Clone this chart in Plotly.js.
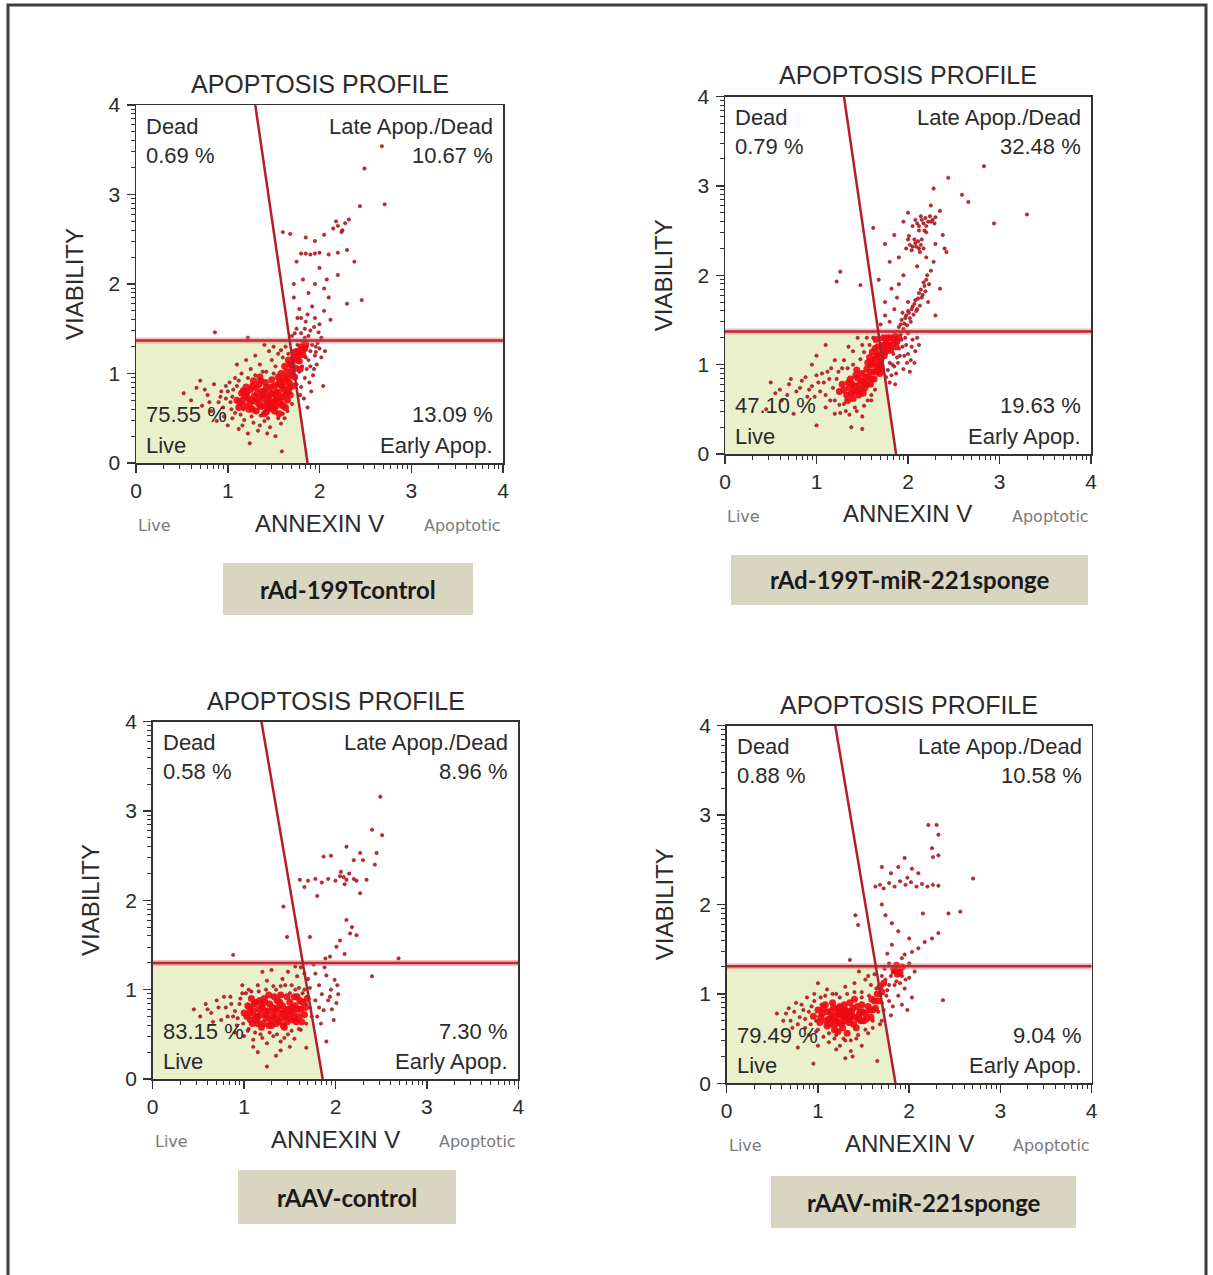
<!DOCTYPE html>
<html><head><meta charset="utf-8">
<script src="https://cdn.plot.ly/plotly-3.0.1.min.js"></script>
<style>html,body{margin:0;padding:0;background:#fff}#chart{width:1213px;height:1275px}</style>
</head><body><div id="chart"></div>
<script>
// ---------------- DATA ----------------
const sampleNames = ['rAd-199Tcontrol', 'rAd-199T-miR-221sponge', 'rAAV-control', 'rAAV-miR-221sponge'];
const deadPct  = ['0.69 %', '0.79 %', '0.58 %', '0.88 %'];
const latePct  = ['10.67 %', '32.48 %', '8.96 %', '10.58 %'];
const livePct  = ['75.55 %', '47.10 %', '83.15 %', '79.49 %'];
const earlyPct = ['13.09 %', '19.63 %', '7.30 %', '9.04 %'];
const tickVals = [0, 1, 2, 3, 4];
const tickText = ['0', '1', '2', '3', '4'];
// gates: horizontal viability threshold, diagonal annexin line (x at top y=4, x at bottom y=0)
const gateH      = [1.37, 1.37, 1.30, 1.31];
const gateTopX   = [1.30, 1.30, 1.19, 1.19];
const gateBottomX= [1.87, 1.87, 1.86, 1.85];

// events, [annexin, viability]; dense core and scattered events
const p1Core = [[1.10,0.70],[1.15,0.78],[1.18,0.64],[1.22,0.72],[1.25,0.82],[1.27,0.60],[1.30,0.69],[1.32,0.77],[1.34,0.88],[1.36,0.63],[1.38,0.72],[1.40,0.80],[1.42,0.57],[1.43,0.67],[1.45,0.75],[1.47,0.85],[1.48,0.93],[1.50,0.62],[1.52,0.70],[1.53,0.79],[1.55,0.88],[1.56,0.55],[1.58,0.66],[1.60,0.74],[1.61,0.83],[1.62,0.95],[1.64,1.02],[1.65,0.70],[1.67,0.90],[1.68,1.10],[1.70,0.98],[1.72,1.18],[1.74,1.06],[1.76,1.25],[1.78,1.14],[1.80,1.30],[1.82,1.21],[1.20,0.85],[1.28,0.92],[1.35,0.96],[1.44,0.60],[1.46,0.68],[1.51,0.58],[1.57,0.92],[1.63,0.62],[1.66,0.80],[1.69,1.03],[1.71,0.86],[1.24,0.66],[1.39,0.64],[1.49,0.77],[1.54,0.73],[1.59,0.86],[1.33,0.72],[1.41,0.90],[1.12,0.62],[1.19,0.75],[1.26,0.70],[1.37,0.80],[1.58,1.00],
  [1.16,0.70],[1.21,0.79],[1.23,0.60],[1.29,0.75],[1.31,0.84],[1.34,0.66],[1.36,0.92],[1.39,0.76],[1.42,0.84],[1.44,0.71],[1.46,0.62],[1.47,0.78],[1.50,0.68],[1.51,0.86],[1.53,0.64],[1.55,0.79],[1.57,0.71],[1.60,0.64],[1.61,0.90],[1.63,0.77],[1.65,0.95],[1.67,0.84],[1.70,1.10],[1.73,0.96],[1.75,1.15],[1.77,1.20],[1.79,1.05],[1.81,1.26],[1.84,1.28],[1.68,0.76],[1.27,0.86],[1.17,0.81],[1.13,0.68],[1.31,0.58],[1.40,0.55],[1.55,0.96],[1.62,1.08],[1.66,1.15],[1.73,1.24],[1.85,1.33]];
const p1Spread = [[0.52,0.78],[0.60,0.70],[0.66,0.84],[0.72,0.64],[0.78,0.76],[0.82,0.58],[0.85,0.88],[0.90,0.68],[0.93,0.80],[0.96,0.52],[0.98,0.72],[1.02,0.90],[1.04,0.60],[1.06,0.82],[1.08,0.95],[0.70,0.92],[0.88,0.47],[1.00,0.42],[1.05,0.50],[1.12,0.38],[1.18,0.48],[1.22,0.33],[1.28,0.45],[1.33,0.36],[1.40,0.47],[1.46,0.40],[1.52,0.30],[1.58,0.44],[1.62,0.50],[1.24,0.22],[1.59,0.13],[1.15,1.00],[1.25,1.05],[1.35,1.10],[1.42,1.02],[1.48,1.15],[1.52,1.08],[1.55,1.22],[1.60,1.18],[1.63,1.30],[1.45,1.25],[1.30,1.20],[1.20,1.15],
  [0.75,0.82],[0.80,0.68],[0.92,0.74],[0.95,0.62],[1.00,0.80],[1.03,0.68],[1.05,0.74],[1.08,0.56],[1.10,0.86],[1.12,0.92],[1.14,0.54],[1.17,0.60],[1.22,0.95],[1.26,0.52],[1.30,0.98],[1.36,0.53],[1.38,1.02],[1.44,0.50],[1.50,1.00],[1.55,0.50],[1.60,0.55],[1.65,0.58],[1.70,0.66],[1.58,1.26],[1.50,1.30],[1.40,1.32],[1.66,1.22],[1.35,0.42],[1.43,0.33],[1.16,0.42],[1.10,1.10],[0.98,0.86],
  [0.86,1.46],[1.22,1.40],
  [1.80,0.85],[1.84,0.95],[1.86,1.05],[1.88,1.15],[1.90,1.25],[1.92,1.32],[1.95,1.20],[1.97,1.10],[2.00,1.28],[2.04,0.86],[1.83,0.72],[1.87,0.62],[1.93,0.98],[1.78,1.22],[1.82,1.35],[1.86,1.30],[1.98,1.34],[2.02,1.18],[1.91,0.80],[1.85,1.18],[1.94,1.05],[1.89,0.90],[1.76,1.32],[1.81,1.08],[2.06,1.25],[1.96,1.30],[1.78,1.02],[1.90,1.08],[1.96,1.24],[1.75,0.88],[1.79,0.76],
  [1.70,1.42],[1.75,1.50],[1.80,1.45],[1.85,1.58],[1.90,1.48],[1.95,1.62],[2.00,1.55],[2.05,1.70],[1.78,1.72],[1.72,1.85],[1.88,1.90],[1.82,2.05],[1.95,2.00],[2.05,1.95],[2.10,1.85],[2.30,1.78],[2.20,2.10],[1.75,2.25],[1.80,2.34],[1.85,2.34],[1.90,2.33],[1.95,2.34],[2.00,2.35],[2.10,2.33],[2.20,2.35],[2.30,2.38],[1.60,2.58],[1.68,2.56],[1.85,2.52],[1.95,2.48],[2.05,2.55],[2.15,2.62],[2.20,2.65],[2.25,2.60],[2.28,2.68],[2.32,2.72],[2.24,2.58],[2.18,2.70],[2.44,2.87],[2.49,3.29],[2.68,3.54],[2.71,2.89],[2.46,1.82],[2.38,2.25],[1.72,2.00],[2.00,2.18],[1.92,1.75],[2.12,1.60],[1.76,1.62],[2.08,2.05],[1.84,1.40],[1.88,1.42],[1.94,1.52],[1.99,1.46],[1.84,1.50],[1.80,1.62],[1.87,1.66],[2.02,1.40],[1.73,1.45]];

const p2Core = [[1.30,0.72],[1.35,0.80],[1.38,0.68],[1.42,0.76],[1.45,0.85],[1.48,0.72],[1.50,0.90],[1.52,0.80],[1.55,0.95],[1.57,0.86],[1.60,1.00],[1.62,0.92],[1.64,1.06],[1.66,0.98],[1.68,1.12],[1.70,1.03],[1.72,1.18],[1.74,1.10],[1.76,1.24],[1.78,1.16],[1.80,1.30],[1.83,1.22],[1.86,1.32],[1.88,1.26],[1.58,1.08],[1.63,0.84],[1.67,1.20],[1.71,0.95],[1.40,0.62],[1.46,0.66],[1.53,0.74],[1.61,1.14],[1.65,1.28],[1.73,1.30],[1.69,0.90],[1.44,0.94],[1.56,1.02],[1.59,0.78],[1.36,0.74],[1.49,0.82],
  [1.25,0.70],[1.28,0.78],[1.33,0.66],[1.37,0.84],[1.41,0.70],[1.43,0.88],[1.47,0.78],[1.51,0.68],[1.54,0.86],[1.58,0.92],[1.60,0.84],[1.62,1.02],[1.65,0.92],[1.66,1.10],[1.69,1.00],[1.71,1.08],[1.73,1.22],[1.75,1.14],[1.77,1.30],[1.79,1.22],[1.81,1.16],[1.84,1.28],[1.87,1.20],[1.90,1.30],[1.64,1.18],[1.68,0.96],[1.55,0.78],[1.45,0.70],[1.39,0.78],[1.34,0.60]];
const p2Spread = [[0.45,0.50],[0.55,0.68],[0.62,0.60],[0.70,0.78],[0.78,0.70],[0.84,0.82],[0.90,0.64],[0.95,0.76],[1.00,0.88],[1.04,0.70],[1.08,0.80],[1.12,0.92],[1.15,0.60],[1.18,0.74],[1.22,0.84],[1.25,0.55],[1.28,0.96],[1.10,0.52],[1.20,0.45],[1.32,0.48],[1.42,0.52],[1.50,0.42],[1.38,0.30],[1.50,0.28],[1.00,0.32],[0.75,0.45],[1.00,1.10],[1.10,1.22],[1.30,1.05],[1.40,1.15],[1.50,1.22],[1.55,1.30],[1.45,1.30],[0.95,1.00],[0.50,0.80],[1.60,0.60],
  [0.60,0.72],[0.68,0.66],[0.72,0.84],[0.82,0.74],[0.88,0.86],[0.92,0.72],[0.98,0.64],[1.02,0.80],[1.06,0.90],[1.10,0.66],[1.14,0.84],[1.16,0.96],[1.20,0.60],[1.24,0.92],[1.26,0.46],[1.30,0.56],[1.34,0.96],[1.36,0.44],[1.40,1.00],[1.44,0.48],[1.48,1.06],[1.52,0.54],[1.56,0.60],[1.60,0.66],[1.64,0.72],[1.52,1.14],[1.58,1.22],[1.62,1.30],[1.35,1.20],[1.20,1.05],
  [1.85,0.98],[1.88,1.08],[1.90,1.18],[1.93,1.28],[1.96,1.10],[1.98,1.22],[2.00,1.35],[2.03,1.05],[2.05,1.28],[1.95,0.95],[1.82,0.88],[1.86,0.78],[2.08,1.15],[1.80,1.02],[1.92,1.34],[2.02,0.92],[1.78,0.94],[1.84,1.12],[1.99,1.02],[2.10,1.30],
  [1.80,0.80],[1.83,1.00],[1.87,0.90],[1.89,1.02],[1.91,1.10],[1.94,1.20],[1.97,1.30],[2.00,1.12],[2.04,1.20],[2.07,1.02],[1.76,0.86],[2.12,1.22],
  [1.90,1.42],[1.93,1.50],[1.96,1.46],[1.98,1.55],[2.00,1.60],[2.02,1.52],[2.05,1.65],[2.08,1.72],[2.10,1.62],[2.12,1.80],[2.15,1.75],[2.18,1.88],[2.05,2.32],[2.08,2.36],[2.12,2.30],[2.00,2.40],[2.15,2.40],[2.10,2.58],[2.15,2.62],[2.20,2.55],[2.25,2.60],[2.05,2.55],[2.30,2.65],[2.18,2.50],
  [1.92,1.45],[1.95,1.40],[1.97,1.52],[1.99,1.44],[2.01,1.58],[2.03,1.48],[2.04,1.62],[2.06,1.56],[2.07,1.68],[2.09,1.60],[2.11,1.74],[2.13,1.66],[2.14,1.84],[2.16,1.78],[2.17,1.92],[2.19,1.82],[2.21,2.00],[2.23,1.90],[1.94,1.58],[2.00,1.70],[2.02,2.34],[2.04,2.28],[2.07,2.40],[2.09,2.32],[2.11,2.38],[2.13,2.26],[2.14,2.34],[2.17,2.30],[1.98,2.30],[2.01,2.44],[2.08,2.62],[2.12,2.55],[2.14,2.66],[2.17,2.58],[2.19,2.64],[2.22,2.60],[2.24,2.66],[2.27,2.62],[2.29,2.58],[2.12,2.50],[2.20,2.48],
  [1.70,1.45],[1.75,1.55],[1.80,1.48],[1.85,1.62],[1.88,1.75],[1.82,1.85],[1.75,1.70],[2.20,1.95],[2.25,2.05],[2.28,2.15],[2.22,1.70],[2.30,1.55],[2.35,1.85],[1.95,2.00],[1.90,2.20],[1.80,2.15],[1.95,2.60],[2.00,2.70],[2.25,2.78],[2.35,2.72],[2.28,2.97],[2.44,3.09],[2.83,3.22],[2.94,2.58],[3.30,2.68],[2.59,2.90],[2.66,2.82],[2.42,2.26],[1.62,2.53],[1.75,2.35],[2.40,2.30],[2.38,2.45],[1.85,2.45],[2.30,2.35],[2.20,2.20],[2.10,2.10],[1.68,1.95],[1.90,1.90],
  [1.26,2.04],[1.22,1.93],[1.48,1.89]];

const p3Core = [[1.00,0.74],[1.04,0.82],[1.07,0.66],[1.10,0.76],[1.13,0.86],[1.15,0.62],[1.18,0.72],[1.20,0.80],[1.22,0.90],[1.24,0.68],[1.26,0.76],[1.28,0.84],[1.30,0.60],[1.32,0.70],[1.34,0.78],[1.36,0.88],[1.38,0.64],[1.40,0.74],[1.42,0.82],[1.44,0.58],[1.46,0.70],[1.48,0.78],[1.50,0.86],[1.52,0.66],[1.54,0.74],[1.56,0.82],[1.58,0.92],[1.60,0.70],[1.62,0.78],[1.64,0.86],[1.12,0.70],[1.16,0.78],[1.25,0.72],[1.29,0.66],[1.33,0.74],[1.37,0.80],[1.41,0.68],[1.45,0.76],[1.49,0.72],[1.53,0.80],[1.21,0.62],[1.35,0.62],[1.27,0.94],[1.47,0.92],[1.08,0.90],[1.66,0.72],[1.57,0.64],[1.19,0.84],
  [1.03,0.70],[1.06,0.80],[1.09,0.62],[1.11,0.84],[1.14,0.66],[1.17,0.88],[1.19,0.58],[1.23,0.76],[1.27,0.60],[1.31,0.80],[1.33,0.92],[1.35,0.68],[1.39,0.86],[1.43,0.74],[1.47,0.64],[1.51,0.76],[1.55,0.68],[1.59,0.78],[1.61,0.88],[1.63,0.64],[1.67,0.80],[1.69,0.90],[1.23,0.86],[1.15,0.70],[1.40,0.94],[1.55,0.92],[1.43,0.60],[1.06,0.74]];
const p3Spread = [[0.45,0.78],[0.52,0.70],[0.58,0.84],[0.64,0.74],[0.70,0.88],[0.75,0.66],[0.80,0.80],[0.85,0.92],[0.88,0.70],[0.92,0.60],[0.95,0.84],[0.98,0.96],[0.90,0.52],[1.00,0.48],[1.05,0.56],[1.10,0.44],[1.18,0.50],[1.25,0.40],[1.32,0.48],[1.40,0.42],[1.48,0.50],[1.55,0.45],[1.62,0.55],[1.68,0.35],[1.25,0.14],[1.15,0.30],[1.40,0.32],[1.05,1.00],[1.15,1.05],[1.25,1.10],[1.35,1.00],[1.42,1.12],[1.48,1.20],[1.52,1.05],[1.58,1.15],[1.62,1.25],[1.66,1.00],[1.70,0.92],[1.72,0.80],[1.68,0.62],[1.60,1.02],[0.98,1.05],[1.30,1.22],
  [0.60,0.78],[0.66,0.64],[0.72,0.80],[0.78,0.92],[0.82,0.70],[0.86,0.84],[0.90,0.76],[0.93,0.68],[0.96,0.90],[0.99,0.62],[1.02,0.96],[1.04,0.54],[1.08,0.98],[1.12,0.52],[1.16,0.98],[1.20,0.46],[1.24,1.00],[1.28,0.52],[1.32,1.04],[1.36,0.50],[1.40,1.04],[1.44,0.46],[1.50,0.96],[1.52,0.54],[1.56,1.00],[1.60,0.56],[1.64,0.96],[1.68,0.84],[1.72,1.02],[1.70,1.12],[1.66,1.18],[1.56,1.26],[1.45,1.05],[1.20,1.20],[1.10,0.36],[1.50,0.36],[1.35,0.26],[1.74,0.70],
  [1.78,1.18],[1.82,1.05],[1.85,0.95],[1.87,0.77],[1.90,1.16],[1.92,0.88],[1.95,1.00],[1.98,0.66],[1.99,1.11],[2.01,0.85],[2.03,0.95],[1.80,0.70],[1.84,0.62],[1.90,0.42],[2.40,1.15],[1.88,1.25],[1.76,1.28],[1.96,0.78],[1.78,0.88],[1.82,0.80],[1.94,0.92],[2.02,1.05],
  [1.89,1.35],[1.94,1.37],[2.01,1.48],[2.12,1.78],[2.16,1.63],[2.23,1.61],[2.18,1.70],[1.72,1.59],[2.69,1.35],[1.61,2.23],[1.70,2.22],[1.78,2.24],[1.85,2.20],[1.92,2.24],[2.00,2.22],[2.05,2.27],[2.09,2.26],[2.12,2.23],[2.15,2.30],[2.20,2.24],[2.23,2.22],[2.10,2.18],[2.06,2.32],[1.87,2.49],[2.12,2.60],[2.27,2.53],[2.40,2.79],[2.49,3.16],[2.51,2.73],[2.45,2.53],[2.43,2.40],[2.34,2.23],[2.27,2.08],[1.66,2.15],[1.95,2.50],[2.20,2.45],[2.30,2.45],[1.80,2.05],[2.05,1.55],[2.10,1.40],
  [1.43,1.93],[1.47,1.59],[0.88,1.39]];

const p4Core = [[0.95,0.75],[1.00,0.82],[1.02,0.68],[1.05,0.78],[1.08,0.88],[1.10,0.64],[1.12,0.72],[1.14,0.80],[1.16,0.90],[1.18,0.60],[1.20,0.70],[1.22,0.78],[1.24,0.86],[1.26,0.66],[1.28,0.74],[1.30,0.82],[1.32,0.56],[1.34,0.68],[1.36,0.76],[1.38,0.84],[1.40,0.94],[1.42,0.62],[1.44,0.72],[1.46,0.80],[1.48,0.88],[1.50,0.70],[1.52,0.78],[1.55,0.86],[1.58,0.74],[1.60,0.82],[1.62,0.92],[1.65,1.00],[1.68,1.08],[1.15,0.74],[1.25,0.76],[1.27,0.82],[1.29,0.70],[1.31,0.76],[1.21,0.84],[1.19,0.66],[1.33,0.80],[1.35,0.72],[1.39,0.66],[1.45,0.76],[1.85,1.26],[1.88,1.29],[1.90,1.24],[1.86,1.32],
  [1.03,0.74],[1.06,0.84],[1.09,0.70],[1.11,0.80],[1.13,0.66],[1.17,0.84],[1.19,0.76],[1.23,0.68],[1.25,0.82],[1.27,0.62],[1.29,0.88],[1.33,0.72],[1.37,0.80],[1.41,0.74],[1.43,0.86],[1.47,0.70],[1.49,0.80],[1.53,0.72],[1.57,0.82],[1.59,0.94],[1.63,0.84],[1.66,0.92],[1.70,1.02],[1.72,1.12],[1.18,0.70],[1.35,0.90],[1.22,0.58],[1.83,1.28],[1.92,1.30],[1.87,1.22]];
const p4Spread = [[0.55,0.78],[0.62,0.70],[0.68,0.84],[0.72,0.62],[0.76,0.90],[0.80,0.74],[0.84,0.82],[0.86,0.62],[0.88,0.96],[0.90,0.54],[0.93,0.86],[0.96,1.00],[0.98,0.58],[1.03,0.96],[1.06,0.52],[1.12,0.46],[1.18,0.50],[1.24,0.42],[1.30,0.48],[1.36,0.36],[1.42,0.50],[1.48,0.42],[1.55,0.56],[1.60,0.62],[0.95,0.22],[1.30,0.28],[1.65,0.25],[0.78,0.40],[1.10,1.05],[1.20,1.00],[1.30,1.08],[1.40,1.12],[1.48,1.02],[1.52,1.16],[1.58,1.10],[1.62,1.22],[1.66,0.80],[1.70,0.90],[1.45,1.25],[1.00,1.12],[1.70,0.70],
  [0.65,0.78],[0.70,0.70],[0.74,0.80],[0.78,0.66],[0.82,0.88],[0.86,0.72],[0.90,0.80],[0.92,0.66],[0.96,0.92],[0.98,0.70],[1.00,0.60],[1.04,0.88],[1.08,0.98],[1.12,0.56],[1.16,1.00],[1.20,0.54],[1.24,0.96],[1.28,0.50],[1.32,1.00],[1.36,0.48],[1.40,1.02],[1.44,0.54],[1.48,0.96],[1.52,0.60],[1.56,0.98],[1.60,0.70],[1.64,1.06],[1.68,0.66],[1.70,1.20],[1.55,1.20],[1.38,0.30],[1.20,0.38],[1.00,0.42],
  [1.74,1.16],[1.76,1.04],[1.78,0.92],[1.80,1.20],[1.82,0.86],[1.84,1.10],[1.88,0.98],[1.90,1.12],[1.92,0.88],[1.95,1.06],[1.98,0.82],[2.00,1.18],[2.03,0.96],[2.06,1.25],[2.37,0.93],[1.80,0.76],[1.94,1.30],[1.73,1.28],[1.72,0.82],[1.75,0.98],[1.78,1.10],[1.82,1.24],[1.86,1.14],[1.92,1.20],[1.96,1.16],[2.00,1.34],[1.78,1.34],
  [1.95,1.44],[2.03,1.47],[2.10,1.51],[2.17,1.58],[2.25,1.62],[2.32,1.68],[1.81,1.55],[1.88,1.70],[1.81,1.79],[1.74,1.88],[1.70,2.00],[2.43,1.90],[2.56,1.92],[2.70,2.29],[1.63,2.20],[1.68,2.22],[1.72,2.18],[1.78,2.24],[1.84,2.20],[1.90,2.26],[1.96,2.22],[2.02,2.25],[2.08,2.20],[2.14,2.23],[2.20,2.20],[2.26,2.22],[2.32,2.21],[1.98,2.30],[1.88,2.42],[2.03,2.40],[1.70,2.42],[1.95,2.52],[2.25,2.63],[2.26,2.53],[2.32,2.55],[2.21,2.89],[2.30,2.89],[2.32,2.78],[2.10,2.35],[1.80,2.35],[1.92,1.40],[2.00,1.62],[1.76,1.45],[2.15,1.90],
  [1.41,1.88],[1.44,1.77],[1.35,1.38]];

const coreSets = [p1Core, p2Core, p3Core, p4Core];
const spreadSets = [p1Spread, p2Spread, p3Spread, p4Spread];

// ---------------- LAYOUT GEOMETRY (pixels) ----------------
const W = 1213, H = 1275;
const panelBox   = [[136,503,105,463],[725,1091,96.5,454],[152.7,518.3,721.7,1079],[726.7,1091.7,725.7,1083.3]]; // l,r,t,b
const captionBox = [[223,473,563,615],[731,1088,555,605],[238,456,1170,1224],[771,1076,1176,1228]];
const fx = p => p / W, fy = p => 1 - p / H;

const minorVals = [];
for (let d = 0; d < 4; d++) for (let k = 2; k <= 9; k++) minorVals.push(d + Math.log10(k));

const MAIN = 'Liberation Sans, Arial, Helvetica, sans-serif';
const TXT = '#2b2b2b';

const traces = [], shapes = [], annotations = [];
const layout = {
  width: W, height: H, margin: {l:0, r:0, t:0, b:0},
  paper_bgcolor: '#fff', plot_bgcolor: 'rgba(0,0,0,0)',
  showlegend: false, hovermode: false
};

function axisCfg(dom, anchor, isX) {
  return {
    domain: dom, anchor: anchor, range: [0, 4], fixedrange: true,
    tickmode: 'array', tickvals: tickVals, ticktext: tickText,
    ticks: 'outside', ticklen: 8, tickwidth: 1.5, tickcolor: '#333',
    ticklabelstandoff: isX ? 0 : 2,
    showline: true, mirror: true, linecolor: '#333', linewidth: 1.5,
    showgrid: false, zeroline: false,
    tickfont: {family: MAIN, size: 21, color: TXT},
    minor: {tickmode: 'array', tickvals: minorVals, ticks: 'outside', ticklen: 4, tickwidth: 1, tickcolor: '#333', showgrid: false}
  };
}

for (let i = 0; i < 4; i++) {
  const [l, r, t, b] = panelBox[i];
  const n = i === 0 ? '' : String(i + 1);
  const xa = 'x' + n, ya = 'y' + n;
  layout['xaxis' + n] = axisCfg([fx(l), fx(r)], ya, true);
  layout['yaxis' + n] = axisCfg([fy(b), fy(t)], xa, false);

  // live-gate fill
  const h = gateH[i], top = gateTopX[i], bot = gateBottomX[i];
  const xi = bot + (top - bot) * h / 4;
  shapes.push({type: 'path', xref: xa, yref: ya, layer: 'below',
    path: `M 0 0 L ${bot} 0 L ${xi} ${h} L 0 ${h} Z`, fillcolor: '#eaf0cc', line: {width: 0}});
  // gate lines
  shapes.push({type: 'line', xref: xa, yref: ya, x0: 0, x1: 4, y0: h, y1: h, layer: 'above',
    line: {color: 'rgba(225,110,115,0.45)', width: 6}});
  shapes.push({type: 'line', xref: xa, yref: ya, x0: 0, x1: 4, y0: h, y1: h, layer: 'above',
    line: {color: '#bf2832', width: 2.5}});
  shapes.push({type: 'line', xref: xa, yref: ya, x0: bot, y0: 0, x1: top, y1: 4, layer: 'above',
    line: {color: '#b31e29', width: 2.5}});

  // events
  traces.push({type: 'scatter', mode: 'markers', xaxis: xa, yaxis: ya,
    x: spreadSets[i].map(p => p[0]), y: spreadSets[i].map(p => p[1]),
    marker: {size: 3.4, color: 'rgb(225,30,38)', line: {width: 0.6, color: 'rgba(95,25,25,0.85)'}}});
  traces.push({type: 'scatter', mode: 'markers', xaxis: xa, yaxis: ya,
    x: coreSets[i].map(p => p[0]), y: coreSets[i].map(p => p[1]),
    marker: {size: 7, color: 'rgba(240,10,20,0.92)', line: {width: 0}}});

  const cx = (l + r) / 2, cy = (t + b) / 2;
  // panel title
  annotations.push({xref: 'paper', yref: 'paper', x: fx(cx), y: fy(t - 21), text: 'APOPTOSIS PROFILE',
    showarrow: false, xanchor: 'center', yanchor: 'middle', font: {family: MAIN, size: 25, color: TXT}});
  // axis titles
  annotations.push({xref: 'paper', yref: 'paper', x: fx(l - 62), y: fy(cy), text: 'VIABILITY', textangle: -90,
    showarrow: false, xanchor: 'center', yanchor: 'middle', font: {family: MAIN, size: 24, color: TXT}});
  annotations.push({xref: 'paper', yref: 'paper', x: fx(cx), y: fy(b + 60), text: 'ANNEXIN V',
    showarrow: false, xanchor: 'center', yanchor: 'middle', font: {family: MAIN, size: 24, color: TXT}});
  annotations.push({xref: 'paper', yref: 'paper', x: fx(l), y: fy(b + 62), text: 'Live',
    showarrow: false, xanchor: 'left', yanchor: 'middle', font: {family: 'DejaVu Sans, Verdana, sans-serif', size: 16, color: '#7a7a7a'}});
  annotations.push({xref: 'paper', yref: 'paper', x: fx(r), y: fy(b + 62), text: 'Apoptotic',
    showarrow: false, xanchor: 'right', yanchor: 'middle', font: {family: 'DejaVu Sans, Verdana, sans-serif', size: 16, color: '#7a7a7a'}});
  // quadrant texts
  const q = (x, y, txt, anchor) => annotations.push({xref: 'paper', yref: 'paper', x: fx(x), y: fy(y), text: txt,
    showarrow: false, xanchor: anchor, yanchor: 'middle', font: {family: MAIN, size: 22, color: TXT}});
  q(l + 8, t + 21, 'Dead', 'left');
  q(l + 8, t + 50, deadPct[i], 'left');
  q(r - 8, t + 21, 'Late Apop./Dead', 'right');
  q(r - 8, t + 50, latePct[i], 'right');
  q(l + 8, b - 48, livePct[i], 'left');
  q(l + 8, b - 18, 'Live', 'left');
  q(r - 8, b - 48, earlyPct[i], 'right');
  q(r - 8, b - 18, 'Early Apop.', 'right');

  // caption boxes
  const [cl, cr, ct, cb] = captionBox[i];
  shapes.push({type: 'rect', xref: 'paper', yref: 'paper', x0: fx(cl), x1: fx(cr), y0: fy(cb), y1: fy(ct),
    fillcolor: '#d8d5c0', line: {width: 0}, layer: 'below'});
  annotations.push({xref: 'paper', yref: 'paper', x: fx((cl + cr) / 2), y: fy((ct + cb) / 2), text: '<b>' + sampleNames[i] + '</b>',
    showarrow: false, xanchor: 'center', yanchor: 'middle', font: {family: 'Lato, Open Sans, sans-serif', size: 24, color: '#1a1a1a'}});
}

// outer frame (bottom edge falls outside the page)
shapes.push({type: 'rect', xref: 'paper', yref: 'paper', x0: fx(8), x1: fx(1206), y0: fy(1290), y1: fy(5),
  line: {color: '#3c3c3c', width: 3}, fillcolor: 'rgba(0,0,0,0)', layer: 'above'});

layout.shapes = shapes;
layout.annotations = annotations;

Plotly.newPlot('chart', traces, layout, {displayModeBar: false, staticPlot: true});
</script></body></html>
